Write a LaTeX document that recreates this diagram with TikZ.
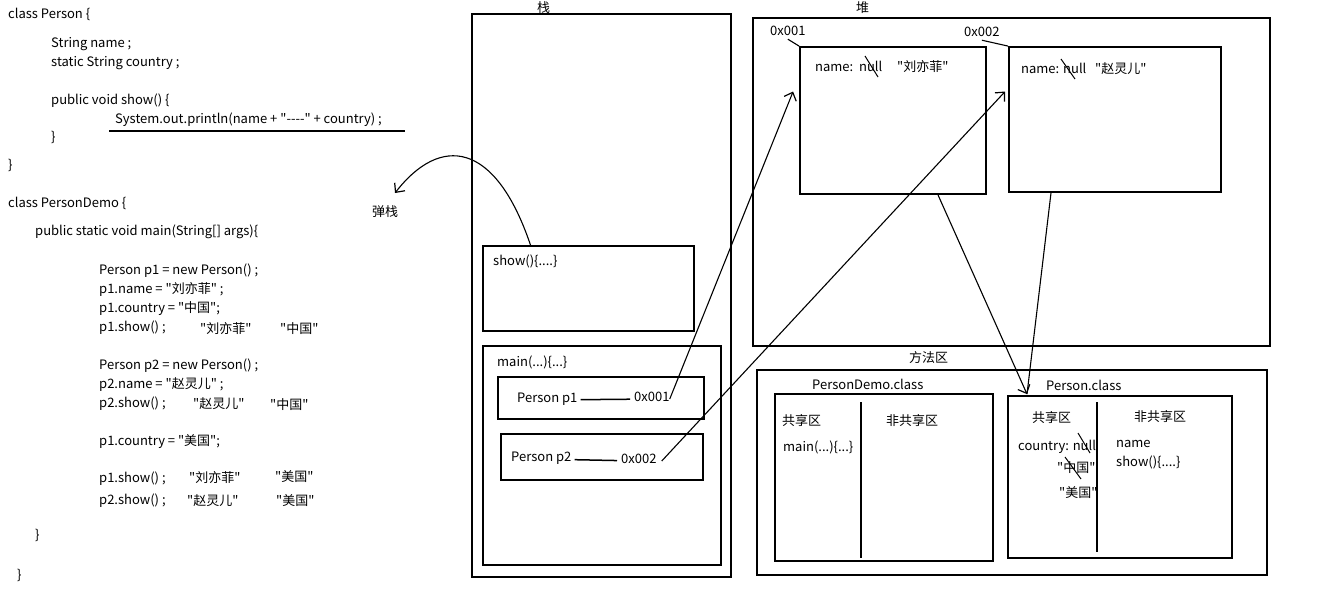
\documentclass[tikz,border=0pt]{standalone}
\usepackage{fontspec}
\setmainfont{Noto Sans CJK SC}[Ligatures=TeXOff]
\usetikzlibrary{arrows.meta}

\begin{document}
\begin{tikzpicture}[
                x=1pt, y=-1pt,
                font=\fontsize{13}{15}\selectfont,
                txt/.style={anchor=west, inner sep=0pt, text height=8pt, text depth=4pt, yshift=-2pt},
                area/.style={draw, line width=1.8pt, inner sep=0pt},
                arrow/.style={-{Straight Barb[length=7pt, width=13pt, line width=1.2pt]}, line width=1.1pt},
                strike/.style={line width=1pt},
                link/.style={line width=1.5pt, shorten <=3pt, shorten >=4pt}
            ]
            \useasboundingbox (0, 0) rectangle (1320, 590);

            % code
            \node[txt] (cls1) at (8, 14) {class Person \{};
            \node[txt] (fld1) at (51, 43) {String name ;};
            \node[txt] (fld2) at (51, 62) {static String country ;};
            \node[txt] (shw1) at (51, 100) {public void show() \{};
            \node[txt] (prn) at (115, 119) {System.out.println(name + "----" + country) ;};
            \draw[line width=1.5pt] (109, 131) -- (405, 131);
            \node[txt] (shw2) at (51, 137) {\}};
            \node[txt] (cls2) at (8, 165) {\}};
            \node[txt] (dem1) at (8, 203) {class PersonDemo \{};
            \node[txt] (mn1) at (35, 231) {public static void main(String[] args)\{};
            \node[txt] (l1) at (99, 270) {Person p1 = new Person() ;};
            \node[txt] (l2) at (99, 289) {p1.name = "刘亦菲" ;};
            \node[txt] (l3) at (99, 308) {p1.country = "中国";};
            \node[txt] (l4) at (99, 327) {p1.show() ;};
            \node[txt] (o4a) at (200, 329) {"刘亦菲"};
            \node[txt] (o4b) at (280, 329) {"中国"};
            \node[txt] (l5) at (99, 365) {Person p2 = new Person() ;};
            \node[txt] (l6) at (99, 384) {p2.name = "赵灵儿" ;};
            \node[txt] (l7) at (99, 403) {p2.show() ;};
            \node[txt] (o7a) at (193, 404) {"赵灵儿"};
            \node[txt] (o7b) at (270, 405) {"中国"};
            \node[txt] (l8) at (99, 441) {p1.country = "美国";};
            \node[txt] (l9) at (99, 478) {p1.show() ;};
            \node[txt] (o9a) at (189, 478) {"刘亦菲"};
            \node[txt] (o9b) at (275, 477) {"美国"};
            \node[txt] (l10) at (99, 500) {p2.show() ;};
            \node[txt] (o10a) at (187, 501) {"赵灵儿"};
            \node[txt] (o10b) at (276, 501) {"美国"};
            \node[txt] (mn2) at (35, 535) {\}};
            \node[txt] (dem2) at (17, 575) {\}};

            % stack
            \node[area, minimum width=259pt, minimum height=563pt] (stack) at (601.5, 295.5) {};
            \node[txt] at (537, 8) {栈};
            \node[area, minimum width=211pt, minimum height=85pt] (show) at (588.5, 288.5) {};
            \node[txt] at (493, 261) {show()\{....\}};
            \node[area, minimum width=238pt, minimum height=219pt] (mainf) at (602, 455.5) {};
            \node[txt] at (497, 362) {main(...)\{...\}};
            \node[area, minimum width=206pt, minimum height=42pt] (p1box) at (601, 398) {};
            \node[txt] (p1name) at (517, 398) {Person p1};
            \node[txt] (p1addr) at (634, 397) {0x001};
            \draw[link] (p1name) -- (p1addr);
            \node[area, minimum width=202pt, minimum height=46pt] (p2box) at (602, 457) {};
            \node[txt] (p2name) at (511, 457) {Person p2};
            \node[txt] (p2addr) at (621, 459) {0x002};
            \draw[link] (p2name) -- (p2addr);

            % heap
            \node[area, minimum width=517pt, minimum height=328pt] (heap) at (1011.5, 182) {};
            \node[txt] at (856, 8) {堆};
            \node[area, minimum width=186pt, minimum height=147pt] (obj1) at (893, 120.5) {};
            \node[txt] (addr1) at (770, 31) {0x001};
            \draw[line width=1.1pt] (addr1.south) -- (obj1.north west);
            \node[txt] at (815, 67) {name:~~null};
            \node[txt] at (897, 67) {"刘亦菲"};
            \draw[strike] (865, 56) -- (878, 77);
            \node[area, minimum width=212pt, minimum height=145pt] (obj2) at (1115, 119.5) {};
            \node[txt] (addr2) at (964, 32) {0x002};
            \draw[line width=1.1pt] (addr2.south) -- (obj2.north west);
            \node[txt] at (1021, 69) {name: null};
            \node[txt] at (1095, 69) {"赵灵儿"};
            \draw[strike] (1061, 59) -- (1075, 79);

            % method area
            \node[area, minimum width=510pt, minimum height=205pt] (meth) at (1012, 472.5) {};
            \node[txt] at (909, 358) {方法区};
            \node[area, minimum width=218pt, minimum height=167pt] (demo) at (884, 477.5) {};
            \node[txt] at (812, 385) {PersonDemo.class};
            \draw[line width=1.5pt] (861, 402) -- (861, 558);
            \node[txt] at (782, 421) {共享区};
            \node[txt] at (886, 421) {非共享区};
            \node[txt] at (783, 447) {main(...)\{...\}};
            \node[area, minimum width=224pt, minimum height=162pt] (pcls) at (1120, 477) {};
            \node[txt] at (1046, 386) {Person.class};
            \draw[line width=1.5pt] (1097, 402) -- (1097, 552);
            \node[txt] at (1032, 418) {共享区};
            \node[txt] at (1134, 417) {非共享区};
            \node[txt] at (1018, 446) {country: null};
            \node[txt] at (1057, 468) {"中国"};
            \node[txt] at (1059, 493) {"美国"};
            \draw[strike] (1078, 433) -- (1090, 453);
            \draw[strike] (1065, 457) -- (1081, 479);
            \node[txt] at (1116, 443) {name};
            \node[txt] at (1116, 462) {show()\{....\}};

            % references
            \draw[arrow] (p1addr.east) -- ([shift={(-6pt, 29pt)}]obj1.west);
            \draw[arrow] ([xshift=5pt]p2addr.east) -- ([shift={(-3pt, 28pt)}]obj2.west);
            \draw[arrow] ([xshift=45pt]obj1.south) -- ([shift={(-93pt, 1pt)}]pcls.north);
            \draw[line width=1.1pt] ([xshift=-64pt]obj2.south) -- ([shift={(-93pt, 1pt)}]pcls.north);
            \draw[arrow] ([xshift=-58pt]show.north) .. controls (495, 140) and (440, 135) .. (395, 193);
            \node[txt] at (372, 212) {弹栈};
        \end{tikzpicture}
\end{document}
